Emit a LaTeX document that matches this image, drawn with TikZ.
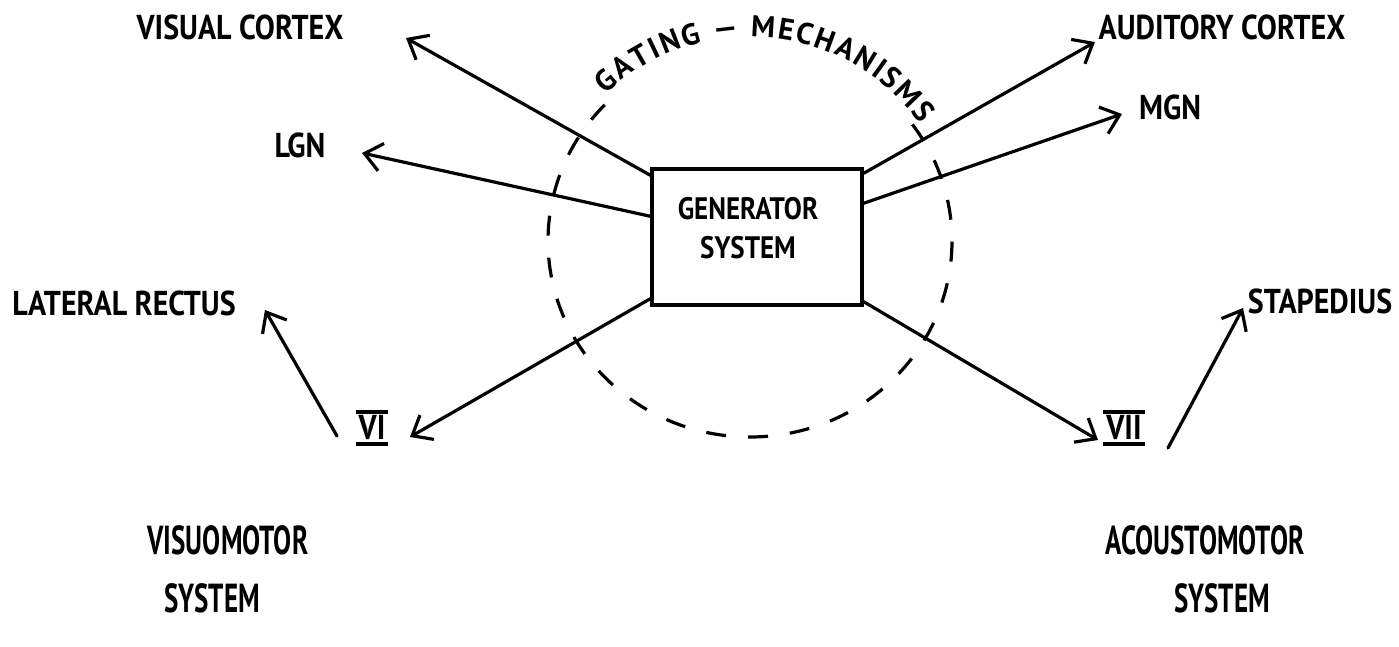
\documentclass[tikz,border=0pt]{standalone}
\usepackage{fontspec}
\usepackage{graphicx}
\setmainfont{PT Sans}
\usetikzlibrary{arrows.meta,decorations.text,calc}
\newcommand\gatefont{\fontsize{30}{32}\selectfont\bfseries}
\newcommand\hand[1]{\scalebox{1.0}[1.15]{#1}}
\newcommand\tall[1]{\scalebox{0.9}[1.35]{#1}}
\newcommand\barnum[1]{\vbox{\hrule height 3pt\kern2pt\hbox{\kern3pt#1\kern3pt}\kern2pt\hrule height 3pt}}
\begin{document}
\begin{tikzpicture}[x=1pt,y=-1pt,
  lab/.style={font=\fontsize{30}{34}\selectfont\bfseries, inner sep=0pt},
  link/.style={line width=3.2pt, line cap=round, -{Straight Barb[length=17pt,width=28pt]}},
  gate/.style={line width=3.2pt, dash pattern=on 20pt off 22pt},
]
\useasboundingbox (0,0) rectangle (1399,647);

% generator box
\node[draw, line width=3.5pt, minimum width=210pt, minimum height=136pt, inner sep=0pt] (gen) at (757,237) {};
\node[font=\fontsize{27}{39}\selectfont\bfseries, align=center, inner sep=0pt] (gentxt) at (748,228) {\hand{GENERATOR}\\\hand{SYSTEM}};

% gating circle
\coordinate (gc) at (750,241);
\draw[gate] ($(gc)+(-136:202 and 196)$) arc[start angle=-136, end angle=-398, x radius=202, y radius=196];
\path[decorate, decoration={text along path, text={|\gatefont|GATING — MECHANISMS}, text align=fit to path}]
  ($(gc)+(-134:208 and 204)$) arc[start angle=-134, end angle=-35, x radius=208, y radius=204];

% labels
\node[lab] (vc) at (240,27) {\hand{VISUAL CORTEX}};
\node[lab] (lgn) at (300,145) {\hand{LGN}};
\node[lab] (lr) at (124,303) {\hand{LATERAL RECTUS}};
\node[lab] (vi) at (372,428) {\hand{\barnum{VI}}};
\node[lab] (ac) at (1222,27) {\hand{AUDITORY CORTEX}};
\node[lab] (mgn) at (1170,107) {\hand{MGN}};
\node[lab] (st) at (1320,301) {\hand{STAPEDIUS}};
\node[lab] (vii) at (1124,428) {\hand{\barnum{VII}}};
\node[lab] (vm) at (228,540) {\tall{VISUOMOTOR}};
\node[lab] (vms) at (212,598) {\tall{SYSTEM}};
\node[lab] (am) at (1205,540) {\tall{ACOUSTOMOTOR}};
\node[lab] (ams) at (1222,598) {\tall{SYSTEM}};

% arrow ends
\coordinate (vcTip) at (406,38);
\coordinate (lgnTip) at (362,153);
\coordinate (viTip) at (410,437);
\coordinate (acTip) at (1095,42);
\coordinate (mgnTip) at (1122,114);
\coordinate (viiTip) at (1098,440);
\coordinate (lrTail) at (337,436);
\coordinate (lrTip) at (265,310);
\coordinate (stTail) at (1168,448);
\coordinate (stTip) at (1243,308);

% connectors
\draw[link] ($(gen.north west)+(0,8)$) -- (vcTip);
\draw[link] ($(gen.north west)+(0,49)$) -- (lgnTip);
\draw[link] ($(gen.south west)+(0,-8)$) -- (viTip);
\draw[link] ($(gen.north east)+(0,6)$) -- (acTip);
\draw[link] ($(gen.north east)+(0,36)$) -- (mgnTip);
\draw[link] ($(gen.south east)+(0,-5)$) -- (viiTip);
\draw[link] (lrTail) -- (lrTip);
\draw[link] (stTail) -- (stTip);
\end{tikzpicture}
\end{document}
